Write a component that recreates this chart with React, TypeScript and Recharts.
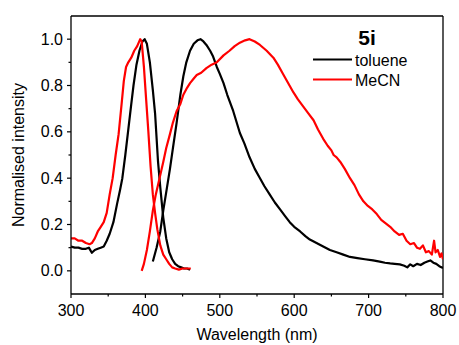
import React from 'react';
import { LineChart, Line, XAxis, YAxis, ReferenceLine, Customized } from 'recharts';

const FONT = '"Liberation Sans", Arial, Helvetica, sans-serif';

const xTicks = [300, 350, 400, 450, 500, 550, 600, 650, 700, 750, 800];
const yTicks = [0, 0.1, 0.2, 0.3, 0.4, 0.5, 0.6, 0.7, 0.8, 0.9, 1.0];

const seriesNames = ['toluene', 'MeCN'];
const seriesColors = ['#000000', '#ff0000'];

// toluene absorption
const tolAbsWl = [300, 305, 310, 315, 320, 324, 328, 332, 336, 340, 344, 348, 352, 357, 362, 366, 369, 373, 377, 381, 384, 388, 392, 396, 399, 402, 406, 410, 413, 417, 420, 424, 428, 432, 436, 440, 444, 448, 452, 456, 460];
const tolAbsVal = [0.105, 0.1, 0.1, 0.095, 0.095, 0.1, 0.078, 0.09, 0.095, 0.1, 0.105, 0.13, 0.16, 0.21, 0.29, 0.35, 0.4, 0.5, 0.61, 0.72, 0.8, 0.89, 0.95, 0.99, 1.0, 0.98, 0.9, 0.78, 0.68, 0.47, 0.36, 0.23, 0.14, 0.08, 0.05, 0.03, 0.02, 0.015, 0.01, 0.01, 0.005];

// MeCN absorption
const mecnAbsWl = [300, 305, 310, 315, 320, 325, 328, 332, 336, 340, 344, 348, 352, 356, 360, 364, 368, 371, 374, 377, 381, 385, 389, 393, 395, 398, 401, 404, 407, 410, 413, 416, 420, 424, 428, 432, 436, 440, 445, 450, 455, 461];
const mecnAbsVal = [0.14, 0.14, 0.13, 0.13, 0.12, 0.115, 0.12, 0.14, 0.17, 0.19, 0.21, 0.25, 0.33, 0.4, 0.5, 0.59, 0.72, 0.82, 0.88, 0.9, 0.92, 0.95, 0.97, 1.0, 0.99, 0.88, 0.74, 0.6, 0.45, 0.33, 0.25, 0.18, 0.11, 0.07, 0.05, 0.03, 0.015, 0.01, 0.005, 0.01, 0.01, 0.01];

// toluene emission
const tolEmWl = [410, 415, 420, 424, 428, 433, 437, 442, 447, 451, 455, 460, 465, 470, 474, 478, 482, 487, 491, 496, 500, 505, 510, 518, 527, 533, 540, 547, 554, 560, 567, 574, 581, 588, 594, 600, 608, 615, 621, 630, 639, 648, 657, 666, 675, 685, 695, 706, 715, 722, 729, 735, 742, 748, 752, 756, 760, 765, 770, 775, 779, 783, 787, 791, 795, 800];
const tolEmVal = [0.04, 0.1, 0.17, 0.26, 0.34, 0.44, 0.53, 0.64, 0.76, 0.84, 0.9, 0.95, 0.98, 0.995, 1.0, 0.99, 0.975, 0.95, 0.925, 0.88, 0.85, 0.81, 0.76, 0.69, 0.595, 0.55, 0.49, 0.44, 0.4, 0.365, 0.33, 0.295, 0.265, 0.235, 0.21, 0.19, 0.17, 0.15, 0.135, 0.12, 0.105, 0.09, 0.08, 0.07, 0.06, 0.055, 0.05, 0.045, 0.04, 0.035, 0.032, 0.03, 0.028, 0.022, 0.015, 0.028, 0.02, 0.03, 0.025, 0.035, 0.04, 0.045, 0.035, 0.03, 0.02, 0.012];

// MeCN emission
const mecnEmWl = [395, 398, 402, 406, 410, 414, 419, 424, 428, 433, 437, 442, 447, 451, 456, 460, 465, 469, 475, 482, 489, 496, 505, 513, 520, 527, 534, 540, 547, 554, 563, 572, 578, 585, 592, 599, 605, 612, 619, 626, 632, 639, 645, 650, 653, 657, 662, 668, 675, 681, 687, 693, 699, 705, 711, 717, 723, 729, 735, 741, 746, 751, 756, 761, 765, 769, 773, 777, 781, 785, 788, 790, 793, 796, 798, 800];
const mecnEmVal = [0.0, 0.03, 0.09, 0.17, 0.26, 0.33, 0.4, 0.47, 0.53, 0.59, 0.64, 0.69, 0.72, 0.76, 0.79, 0.81, 0.83, 0.845, 0.855, 0.875, 0.89, 0.9, 0.93, 0.95, 0.97, 0.985, 0.995, 1.0, 0.99, 0.975, 0.95, 0.92, 0.89, 0.85, 0.81, 0.77, 0.74, 0.71, 0.68, 0.65, 0.61, 0.57, 0.54, 0.52, 0.5, 0.49, 0.47, 0.44, 0.4, 0.37, 0.33, 0.3, 0.28, 0.265, 0.245, 0.22, 0.205, 0.19, 0.17, 0.155, 0.16, 0.13, 0.115, 0.12, 0.1, 0.095, 0.11, 0.08, 0.085, 0.07, 0.13, 0.08, 0.09, 0.06, 0.075, 0.05];

const zip = (w: number[], v: number[]) => w.map((x, i) => ({ x, y: v[i] }));

const XTick = (props: any) => {
  const { x, y, payload } = props;
  const major = Math.round(payload.value) % 100 === 0;
  return (
    <g>
      <line x1={x} y1={y} x2={x} y2={y + (major ? 4 : 2.5)} stroke="#000" strokeWidth={1.2} />
      {major && (
        <text x={x} y={y + 22} textAnchor="middle" fontSize={16} fontFamily={FONT} fill="#000">
          {payload.value}
        </text>
      )}
    </g>
  );
};

const YTick = (props: any) => {
  const { x, y, payload } = props;
  const major = Math.round(payload.value * 10) % 2 === 0;
  return (
    <g>
      <line x1={x} y1={y} x2={x - (major ? 4 : 2.5)} y2={y} stroke="#000" strokeWidth={1.2} />
      {major && (
        <text x={x - 8} y={y + 5.5} textAnchor="end" fontSize={16} fontFamily={FONT} fill="#000">
          {Number(payload.value).toFixed(1)}
        </text>
      )}
    </g>
  );
};

const Overlay = () => (
  <g>
    <text x={24} y={155} transform="rotate(-90, 24, 155)" textAnchor="middle" fontSize={16} fontFamily={FONT} fill="#000">
      Normalised intensity
    </text>
    <text x={257} y={340} textAnchor="middle" fontSize={16} fontFamily={FONT} fill="#000">
      Wavelength (nm)
    </text>
    <text x={367} y={45} textAnchor="middle" fontSize={21} fontWeight="bold" fontFamily={FONT} fill="#000">
      5i
    </text>
    {seriesNames.map((n, i) => (
      <g key={n}>
        <line x1={313} x2={352} y1={59.5 + i * 20} y2={59.5 + i * 20} stroke={seriesColors[i]} strokeWidth={2.2} />
        <text x={355} y={65.5 + i * 20} fontSize={16} fontFamily={FONT} fill="#000">
          {n}
        </text>
      </g>
    ))}
  </g>
);

export default function App() {
  return (
    <div style={{ position: 'absolute', left: 0, top: 0, background: '#fff' }}>
      <LineChart width={459} height={345} margin={{ top: 16, right: 16, bottom: 0, left: 0 }}>
        <XAxis
          type="number"
          dataKey="x"
          domain={[300, 800]}
          ticks={xTicks}
          interval={0}
          height={51}
          tickSize={0}
          tickMargin={0}
          tickLine={false}
          tick={<XTick />}
          axisLine={{ stroke: '#000', strokeWidth: 1.3 }}
          allowDataOverflow
        />
        <YAxis
          type="number"
          domain={[-0.1, 1.1]}
          ticks={yTicks}
          interval={0}
          width={71}
          tickSize={0}
          tickMargin={0}
          tickLine={false}
          tick={<YTick />}
          axisLine={{ stroke: '#000', strokeWidth: 1.3 }}
          allowDataOverflow
        />
        <ReferenceLine y={1.1} stroke="#000" strokeWidth={1.3} ifOverflow="visible" />
        <ReferenceLine x={800} stroke="#000" strokeWidth={1.3} ifOverflow="visible" />
        <Line data={zip(tolAbsWl, tolAbsVal)} dataKey="y" stroke={seriesColors[0]} strokeWidth={2.2} dot={false} isAnimationActive={false} strokeLinejoin="round" />
        <Line data={zip(tolEmWl, tolEmVal)} dataKey="y" stroke={seriesColors[0]} strokeWidth={2.2} dot={false} isAnimationActive={false} strokeLinejoin="round" />
        <Line data={zip(mecnAbsWl, mecnAbsVal)} dataKey="y" stroke={seriesColors[1]} strokeWidth={2.2} dot={false} isAnimationActive={false} strokeLinejoin="round" />
        <Line data={zip(mecnEmWl, mecnEmVal)} dataKey="y" stroke={seriesColors[1]} strokeWidth={2.2} dot={false} isAnimationActive={false} strokeLinejoin="round" />
        <Customized component={Overlay} />
      </LineChart>
    </div>
  );
}
